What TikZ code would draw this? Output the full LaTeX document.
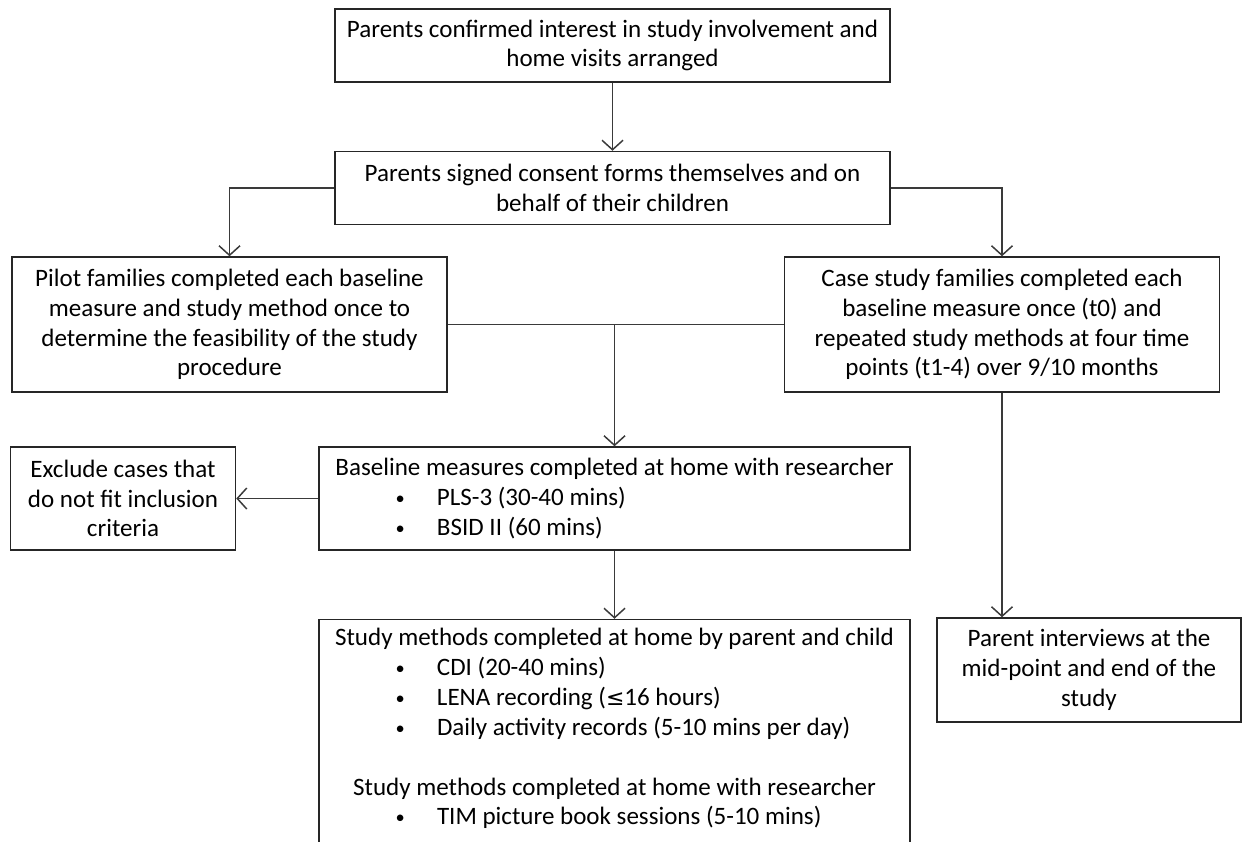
\documentclass[tikz,border=0pt]{standalone}
\usepackage{fontspec}
\setmainfont{Carlito}
\newfontfamily\symfont{DejaVu Sans}
\usepackage{xcolor}
\usepackage{tikz}
\usetikzlibrary{positioning,arrows.meta,calc}
\definecolor{boxline}{HTML}{262626}
\definecolor{linegray}{HTML}{3A3A3A}
\newcommand\bulline[1]{\makebox[11.6cm][l]{\hspace{1.42cm}\makebox[0.83cm][l]{\raisebox{0.6pt}{\fontsize{10.5}{17}\selectfont\textbullet}}#1}}

\begin{document}
\begin{tikzpicture}[
  box/.style={draw=boxline,line width=0.85pt,align=flush center,inner xsep=2pt,inner ysep=2pt,
    font=\fontsize{14.25}{17}\selectfont},
  arr/.style={-{Straight Barb[length=1.9mm,width=4.2mm]},line width=0.85pt,color=linegray},
  link/.style={line width=0.85pt,color=linegray}
]
  \useasboundingbox (0,0) rectangle (24.9,-16.82);
  \clip (0,0) rectangle (24.9,-16.82);
  % top of the flow
  \node[box,minimum width=11.1cm,minimum height=1.46cm,text width=10.9cm] (intr) at (12.25,-0.91)
    {Parents confirmed interest in study involvement and\\home visits arranged};
  \node[box,minimum width=11.1cm,minimum height=1.46cm,text width=10.9cm,below=1.36cm of intr] (cons)
    {Parents signed consent forms themselves and on\\behalf of their children};
  % two groups of families
  \node[box,minimum width=8.7cm,minimum height=2.7cm,text width=8.5cm] (pilot) at (4.59,-6.49)
    {Pilot families completed each baseline\\measure and study method once to\\determine the feasibility of the study\\procedure};
  \node[box,minimum width=8.7cm,minimum height=2.7cm,text width=8.5cm,right=6.72cm of pilot] (case)
    {Case study families completed each\\baseline measure once (t0) and\\repeated study methods at four time\\points (t1-4) over 9/10 months};
  % measures and methods
  \node[box,minimum width=11.82cm,minimum height=2.06cm,text width=11.6cm] (base) at (12.29,-9.97)
    {Baseline measures completed at home with researcher\\
     \bulline{PLS-3 (30-40 mins)}\\
     \bulline{BSID II (60 mins)}};
  \node[box,minimum width=4.5cm,minimum height=2.06cm,text width=4.3cm,left=1.64cm of base] (excl)
    {Exclude cases that\\do not fit inclusion\\criteria};
  \node[box,minimum width=11.82cm,text width=11.6cm,inner ysep=5pt,text depth=6cm,below=1.36cm of base] (study)
    {Study methods completed at home by parent and child\\
     \bulline{CDI (20-40 mins)}\\
     \bulline{LENA recording ({\symfont\fontsize{12.5}{17}\selectfont ≤}16 hours)}\\
     \bulline{Daily activity records (5-10 mins per day)}\\[17pt]
     Study methods completed at home with researcher\\
     \bulline{TIM picture book sessions (5-10 mins)}};
  \node[box,minimum width=6.08cm,minimum height=2.08cm,text width=5.9cm] (parent) at (21.78,-13.4)
    {Parent interviews at the\\mid-point and end of the\\study};
  \coordinate (split) at (pilot.east -| base.north);
  \coordinate (pin) at (case.south |- parent.north);
  % connectors
  \draw[arr] (intr)--(cons);
  \draw[arr] (cons.west) -| (pilot.north);
  \draw[arr] (cons.east) -| (case.north);
  \draw[link] (pilot.east)--(case.west);
  \draw[arr] (split)--(base);
  \draw[arr] (base.west)--(excl.east);
  \draw[arr] (base)--(study);
  \draw[arr] (case.south)--(pin);
\end{tikzpicture}
\end{document}
